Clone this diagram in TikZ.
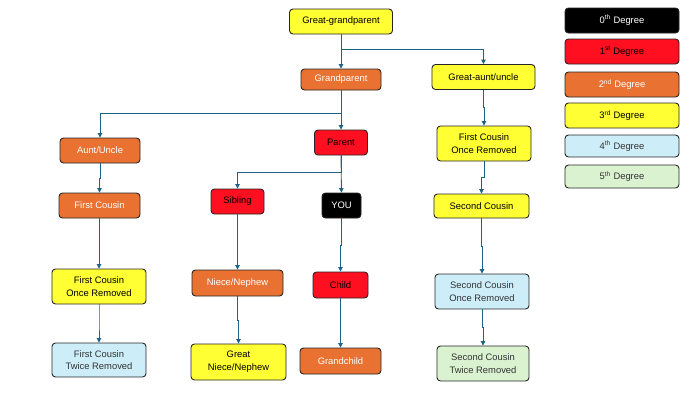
\documentclass[tikz,border=0pt]{standalone}
\usepackage{fontspec}
\setmainfont{Liberation Sans}
\usepackage{tikz}
\usetikzlibrary{calc,positioning,arrows.meta}
\usepackage{xcolor}
\definecolor{degzero}{HTML}{000000}
\definecolor{degone}{HTML}{FF0F1F}
\definecolor{degtwo}{HTML}{E97132}
\definecolor{degthree}{HTML}{FFFF33}
\definecolor{degfour}{HTML}{CDEDF8}
\definecolor{degfive}{HTML}{DAF2D0}
\definecolor{linkblue}{HTML}{1E6285}

\begin{document}
\begin{tikzpicture}[x=1pt,y=-1pt,
    box/.style={draw=black!85, line width=0.9pt, rounded corners=3.5pt, align=center,
        inner sep=1pt, font=\fontsize{9.4}{12.7}\selectfont},
    dzero/.style={box, fill=degzero, text=white},
    done/.style={box, fill=degone, text=black},
    dtwo/.style={box, fill=degtwo, text=white},
    dthree/.style={box, fill=degthree, text=black},
    dfour/.style={box, fill=degfour, text=black!80},
    dfive/.style={box, fill=degfive, text=black!80},
    conn/.style={draw=linkblue, line width=0.9pt, -{Triangle[length=4.5pt,width=4.5pt]}},
    branch/.style={draw=linkblue, line width=0.9pt}]
    \useasboundingbox (0,0) rectangle (690,410);

    % Family tree
    \node[dthree, minimum width=103, minimum height=25] (ggp) at (341,21.5) {Great-grandparent};
    \node[dtwo, minimum width=80, minimum height=21] (gp) at (341,79.5) {Grandparent};
    \node[dthree, minimum width=103, minimum height=25] (gau) at (483.5,77) {Great-aunt/uncle};
    \node[dtwo, minimum width=80, minimum height=25] (au) at (100,150.5) {Aunt/Uncle};
    \node[done, minimum width=53, minimum height=25] (parent) at (341,142.5) {Parent};
    \node[dtwo, minimum width=81, minimum height=25] (fc) at (99.5,205.5) {First Cousin};
    \node[done, minimum width=53, minimum height=25] (sib) at (237.5,201.5) {Sibling};
    \node[dzero, minimum width=39, minimum height=25] (you) at (341.5,205.5) {YOU};
    \node[dthree, minimum width=94, minimum height=35] (fcor) at (99,286.5) {First Cousin\\Once Removed};
    \node[dfour, minimum width=94, minimum height=34] (fctr) at (99,360) {First Cousin\\Twice Removed};
    \node[dtwo, minimum width=91, minimum height=26] (nn) at (237.5,283) {Niece/Nephew};
    \node[dthree, minimum width=95, minimum height=36] (gnn) at (238.5,362) {Great\\Niece/Nephew};
    \node[done, minimum width=55, minimum height=26] (child) at (340.5,285) {Child};
    \node[dtwo, minimum width=81, minimum height=26] (gc) at (340.5,361) {Grandchild};
    \node[dthree, minimum width=94, minimum height=35] (rfcor) at (484,143.5) {First Cousin\\Once Removed};
    \node[dthree, minimum width=95, minimum height=24] (sc) at (481.5,206) {Second Cousin};
    \node[dfour, minimum width=94, minimum height=35] (scor) at (482,291.5) {Second Cousin\\Once Removed};
    \node[dfive, minimum width=92, minimum height=35] (sctr) at (483,363.5) {Second Cousin\\Twice Removed};

    % Branches
    \draw[conn] (ggp) -- (gp);
    \draw[conn] (ggp.south) -- ++(0,15) -| (gau.north);
    \draw[conn] (gp) -- (parent);
    \draw[conn] (gp.south) -- ++(0,23) -| (au.north);
    \draw[conn] (parent) -- (you);
    \draw[conn] (parent.south) -- ++(0,17) -| (sib.north);

    % Straight lines down each column
    \foreach \a/\b in {au/fc, fc/fcor, fcor/fctr, sib/nn, nn/gnn, you/child, child/gc,
        gau/rfcor, rfcor/sc, sc/scor, scor/sctr} {
        \draw[conn] (\a.south) |- ($(\a.south)!0.5!(\b.north)$) -| (\b.north);
    }

    % Legend
    \node[dzero, minimum width=114, minimum height=25] (lzero) at (622,20.5) {0\textsuperscript{th} Degree};
    \node[done, minimum width=114, minimum height=25] (lone) at (622,51.5) {1\textsuperscript{st} Degree};
    \node[dtwo, minimum width=114, minimum height=25] (ltwo) at (622,84.5) {2\textsuperscript{nd} Degree};
    \node[dthree, minimum width=114, minimum height=25] (lthree) at (622,115.5) {3\textsuperscript{rd} Degree};
    \node[dfour, minimum width=114, minimum height=22] (lfour) at (622,146) {4\textsuperscript{th} Degree};
    \node[dfive, minimum width=114, minimum height=23] (lfive) at (622,176.5) {5\textsuperscript{th} Degree};
\end{tikzpicture}
\end{document}
